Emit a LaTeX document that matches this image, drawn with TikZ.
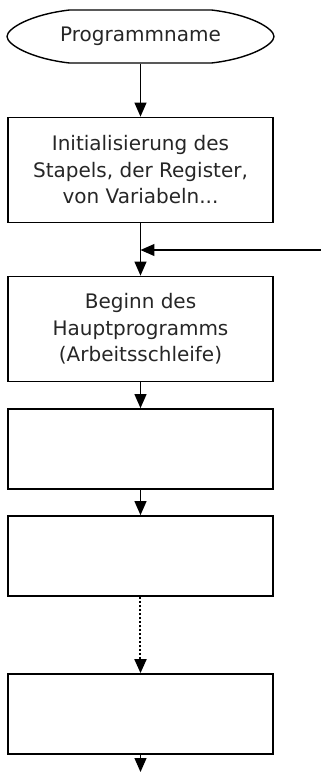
\documentclass[tikz,border=0pt]{standalone}
\usepackage{fontspec}
\setmainfont{DejaVu Sans}
\usetikzlibrary{positioning,arrows.meta}
\begin{document}
\begin{tikzpicture}[>={Triangle[length=7pt,width=6pt]},line width=0.6pt,
	box/.style={draw,line width=0.9pt,minimum width=132.75pt,minimum height=52.5pt,align=center,font=\fontsize{10}{13.25}\selectfont,text=black!85},
	emptybox/.style={box,minimum height=40pt},
	term/.style={minimum width=133.5pt,minimum height=26.5pt,inner sep=0pt,font=\fontsize{10}{13.25}\selectfont,text=black!85},
	dots/.style={line width=1pt,dash pattern=on 1pt off 1pt}]

	\useasboundingbox (-70.25pt,18.25pt) rectangle (90.25pt,-368.25pt);

	\node[term] (name) {Programmname};
	\draw[line width=0.7pt,shift={(name.center)}] (-35.5pt,13.25pt) -- (35.5pt,13.25pt)
		.. controls (55pt,11pt) and (66.75pt,4pt) .. (66.75pt,0pt)
		.. controls (66.75pt,-4pt) and (55pt,-11pt) .. (35.5pt,-13.25pt)
		-- (-35.5pt,-13.25pt)
		.. controls (-55pt,-11pt) and (-66.75pt,-4pt) .. (-66.75pt,0pt)
		.. controls (-66.75pt,4pt) and (-55pt,11pt) .. (-35.5pt,13.25pt) -- cycle;

	\node[box] (init) [below of=name, node distance=66.75pt] {Initialisierung des\\Stapels, der Register,\\von Variabeln...};
	\path[->] (name) edge (init);
	\node[box] (main) [below of=init, node distance=79.5pt] {Beginn des\\Hauptprogramms\\(Arbeitsschleife)};
	\path[->] (init) edge (main);
	\coordinate[below of=init, node distance=40pt] (loop);
	\coordinate[right of=loop, node distance=90.25pt] (back);
	\path[->] (back) edge (loop);
	\node[emptybox] (step1) [below of=main, node distance=60pt] {};
	\path[->] (main) edge (step1);
	\node[emptybox] (step2) [below of=step1, node distance=53.5pt] {};
	\path[->] (step1) edge (step2);
	\node[emptybox] (last) [below of=step2, node distance=79pt] {};
	\path[->] (step2) edge[dots] (last);
	\coordinate[below of=last, node distance=29pt] (end);
	\path[->] (last) edge (end);

\end{tikzpicture}
\end{document}
